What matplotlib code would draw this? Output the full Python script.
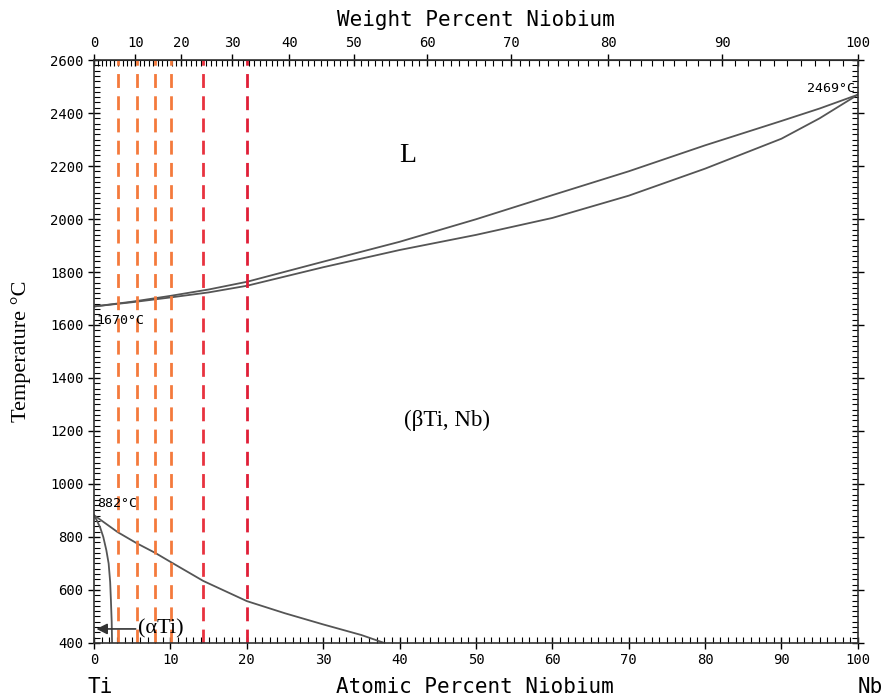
import numpy as np
import matplotlib.pyplot as plt
from matplotlib.ticker import MultipleLocator, FixedLocator

M_TI = 47.867
M_NB = 92.906

# liquidus / solidus (atomic % Nb, temperature C)
liq_at = [0, 5, 10, 15, 20, 30, 40, 50, 60, 70, 80, 90, 95, 100]
liq_t = [1670, 1688, 1710, 1734, 1763, 1839, 1914, 1999, 2090, 2180, 2278, 2370, 2417, 2469]
sol_at = [0, 5, 10, 15, 20, 30, 40, 50, 60, 70, 80, 90, 95, 100]
sol_t = [1670, 1686, 1704, 1723, 1748, 1818, 1883, 1940, 2004, 2088, 2190, 2303, 2380, 2469]

# beta transus
tr_at = [0, 3.1, 5.6, 8, 10, 14.3, 20, 25, 30, 35, 38]
tr_t = [882, 818, 776, 740, 706, 634, 558, 512, 470, 430, 400]

# alpha Ti boundary
al_at = [0, 0.4, 0.8, 1.2, 1.6, 1.9, 2.1, 2.2, 2.3, 2.35]
al_t = [882, 860, 835, 800, 750, 700, 630, 560, 480, 400]

# alloy compositions marked (atomic %)
alloy_at = [3.1, 5.6, 8.0, 10.1, 14.3, 20.0]
alloy_col = ['#f47a3c', '#f47a3c', '#f47a3c', '#f47a3c', '#e8323f', '#e01e37']

wt_ticks = list(range(0, 101, 10))
wt_minor = list(range(0, 101, 1))


def at2wt(a):
    a = np.asarray(a, dtype=float)
    with np.errstate(divide='ignore', invalid='ignore'):
        return a * M_NB / (a * M_NB + (100 - a) * M_TI) * 100


def wt2at(w):
    w = np.asarray(w, dtype=float)
    with np.errstate(divide='ignore', invalid='ignore'):
        return (w / M_NB) / (w / M_NB + (100 - w) / M_TI) * 100


fig = plt.figure(figsize=(8.88, 6.97), dpi=100)
ax = fig.add_axes([0.106, 0.0775, 0.860, 0.8364])

line_c = '#555555'
ax.plot(liq_at, liq_t, color=line_c, lw=1.3)
ax.plot(sol_at, sol_t, color=line_c, lw=1.3)
ax.plot(tr_at, tr_t, color=line_c, lw=1.3)
ax.plot(al_at, al_t, color=line_c, lw=1.3)

for x, c in zip(alloy_at, alloy_col):
    ax.axvline(x, color=c, lw=2, ls=(0, (5, 3)))

ax.set_xlim(0, 100)
ax.set_ylim(400, 2600)
ax.xaxis.set_major_locator(MultipleLocator(10))
ax.xaxis.set_minor_locator(MultipleLocator(1))
ax.yaxis.set_major_locator(MultipleLocator(200))
ax.yaxis.set_minor_locator(MultipleLocator(20))
ax.tick_params(which='major', direction='inout', length=8, width=1,
               labelsize=10, right=True, top=False, labelfontfamily='DejaVu Sans Mono')
ax.tick_params(which='minor', direction='in', length=4, width=0.8, right=True, top=False)
for s in ax.spines.values():
    s.set_linewidth(1.2)
    s.set_color('#333333')

sec = ax.secondary_xaxis('top', functions=(at2wt, wt2at))
sec.xaxis.set_major_locator(FixedLocator(wt_ticks))
sec.xaxis.set_minor_locator(FixedLocator(wt_minor))
sec.tick_params(which='major', direction='inout', length=8, width=1, labelsize=10,
                labelfontfamily='DejaVu Sans Mono')
sec.tick_params(which='minor', direction='in', length=4, width=0.8)

ax.set_ylabel('Temperature °C', family='Liberation Serif', fontsize=16, labelpad=14)

fig.text(0.535, 0.014, 'Atomic Percent Niobium', family='DejaVu Sans Mono',
         fontsize=15, ha='center', va='center')
fig.text(0.536, 0.972, 'Weight Percent Niobium', family='DejaVu Sans Mono',
         fontsize=15, ha='center', va='center')
fig.text(0.113, 0.014, 'Ti', family='DejaVu Sans Mono', fontsize=15, ha='center', va='center')
fig.text(0.980, 0.014, 'Nb', family='DejaVu Sans Mono', fontsize=15, ha='center', va='center')

ax.text(0.3, 1640, '1670°C', family='DejaVu Sans Mono', fontsize=9.5, ha='left', va='top')
ax.text(0.4, 900, '882°C', family='DejaVu Sans Mono', fontsize=9.5, ha='left', va='bottom')
ax.text(99.6, 2494, '2469°C', family='DejaVu Sans Mono', fontsize=9.5, ha='right', va='center')

ax.text(41, 2240, 'L', family='Liberation Serif', fontsize=20, ha='center', va='center')
ax.text(46.2, 1240, '(βTi, Nb)', family='Liberation Serif', fontsize=16.5, ha='center', va='center')
ax.annotate('(αTi)', xy=(0.3, 453), xytext=(5.8, 453), family='Liberation Serif', fontsize=16,
            ha='left', va='center',
            arrowprops=dict(arrowstyle='-|>', color='#333333', lw=1.2, shrinkA=0, shrinkB=0))

fig.savefig('out.png', dpi=100)
